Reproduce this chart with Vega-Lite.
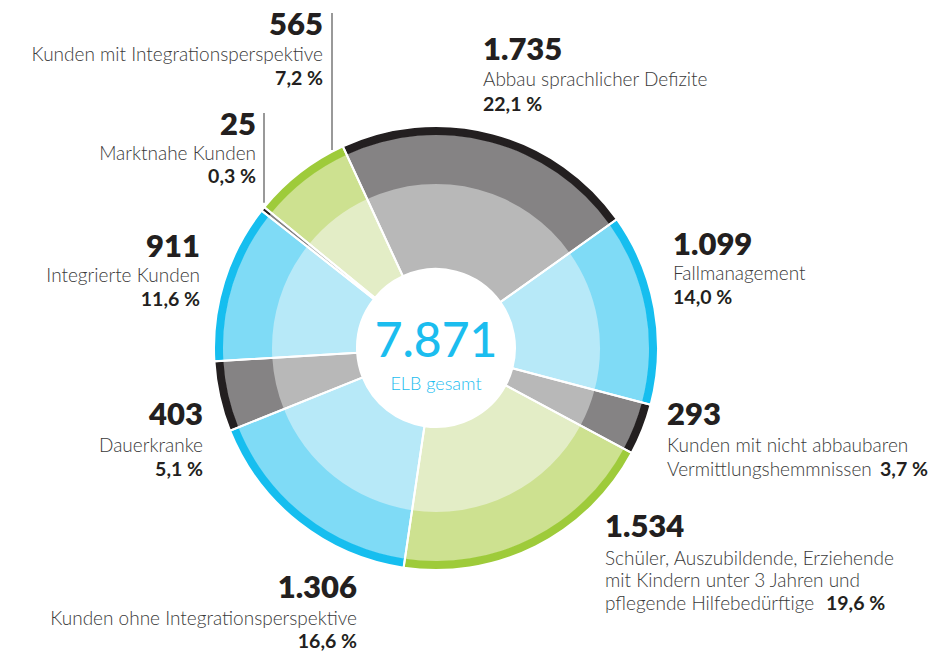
{
  "$schema": "https://vega.github.io/schema/vega-lite/v6.json",
  "width": 951,
  "height": 655,
  "autosize": {"type": "fit", "contains": "padding"},
  "padding": 0,
  "background": "white",
  "config": {"view": {"stroke": null}, "text": {"font": "Lato"}},
  "datasets": {
    "segmente": [
      {"nr": 1, "kategorie": "Abbau sprachlicher Defizite", "anzahl": 1735, "anteil": 22.1},
      {"nr": 2, "kategorie": "Fallmanagement", "anzahl": 1099, "anteil": 14.0},
      {"nr": 3, "kategorie": "Kunden mit nicht abbaubaren Vermittlungshemmnissen", "anzahl": 293, "anteil": 3.7},
      {"nr": 4, "kategorie": "Schüler, Auszubildende, Erziehende mit Kindern unter 3 Jahren und pflegende Hilfebedürftige", "anzahl": 1534, "anteil": 19.6},
      {"nr": 5, "kategorie": "Kunden ohne Integrationsperspektive", "anzahl": 1306, "anteil": 16.6},
      {"nr": 6, "kategorie": "Dauerkranke", "anzahl": 403, "anteil": 5.1},
      {"nr": 7, "kategorie": "Integrierte Kunden", "anzahl": 911, "anteil": 11.6},
      {"nr": 8, "kategorie": "Marktnahe Kunden", "anzahl": 25, "anteil": 0.3},
      {"nr": 9, "kategorie": "Kunden mit Integrationsperspektive", "anzahl": 565, "anteil": 7.2}
    ],
    "beschriftung": [
      {"art": "zahl", "text": "565", "x": -0.5136, "y": 1.4227},
      {"art": "text", "text": "Kunden mit Integrationsperspektive", "x": -0.5136, "y": 1.3045},
      {"art": "anteil", "text": "7,2 %", "x": -0.5136, "y": 1.1955},
      {"art": "zahl", "text": "25", "x": -0.8182, "y": 0.9682},
      {"art": "text", "text": "Marktnahe Kunden", "x": -0.8182, "y": 0.8545},
      {"art": "anteil", "text": "0,3 %", "x": -0.8182, "y": 0.75},
      {"art": "zahl", "text": "911", "x": -1.0727, "y": 0.4136},
      {"art": "text", "text": "Integrierte Kunden", "x": -1.0727, "y": 0.3},
      {"art": "anteil", "text": "11,6 %", "x": -1.0727, "y": 0.1909},
      {"art": "zahl", "text": "403", "x": -1.0591, "y": -0.35},
      {"art": "text", "text": "Dauerkranke", "x": -1.0591, "y": -0.4727},
      {"art": "anteil", "text": "5,1 %", "x": -1.0591, "y": -0.5818},
      {"art": "zahl", "text": "1.306", "x": -0.3591, "y": -1.1364},
      {"art": "text", "text": "Kunden ohne Integrationsperspektive", "x": -0.3591, "y": -1.2591},
      {"art": "anteil", "text": "16,6 %", "x": -0.3591, "y": -1.3636},
      {"art": "zahl", "text": "1.735", "x": 0.2136, "y": 1.3091},
      {"art": "text", "text": "Abbau sprachlicher Defizite", "x": 0.2136, "y": 1.1909},
      {"art": "anteil", "text": "22,1 %", "x": 0.2136, "y": 1.0773},
      {"art": "zahl", "text": "1.099", "x": 1.0773, "y": 0.4227},
      {"art": "text", "text": "Fallmanagement", "x": 1.0773, "y": 0.3091},
      {"art": "anteil", "text": "14,0 %", "x": 1.0773, "y": 0.2},
      {"art": "zahl", "text": "293", "x": 1.05, "y": -0.35},
      {"art": "text", "text": "Kunden mit nicht abbaubaren", "x": 1.05, "y": -0.4727},
      {"art": "text", "text": "Vermittlungshemmnissen", "x": 1.05, "y": -0.5818},
      {"art": "anteil", "text": "3,7 %", "x": 2.0182, "y": -0.5818},
      {"art": "zahl", "text": "1.534", "x": 0.7682, "y": -0.8591},
      {"art": "text", "text": "Schüler, Auszubildende, Erziehende", "x": 0.7682, "y": -0.9864},
      {"art": "text", "text": "mit Kindern unter 3 Jahren und", "x": 0.7682, "y": -1.0864},
      {"art": "text", "text": "pflegende Hilfebedürftige", "x": 0.7682, "y": -1.1909},
      {"art": "anteil", "text": "19,6 %", "x": 1.7727, "y": -1.1909}
    ],
    "mitte": [
      {"art": "summe", "text": "7.871", "x": 0, "y": -0.0409},
      {"art": "untertitel", "text": "ELB gesamt", "x": 0, "y": -0.1909}
    ],
    "linien": [
      {"x": -0.4727, "y": 1.5227, "y2": 0.9},
      {"x": -0.7818, "y": 1.0682, "y2": 0.66}
    ]
  },
  "layer": [
    {
      "data": {"name": "segmente"},
      "mark": {"type": "arc", "innerRadius": 79, "outerRadius": 165},
      "encoding": {
        "theta": {"field": "anzahl", "type": "quantitative", "stack": true, "scale": {"range": [-0.4328, 5.8504]}},
        "order": {"field": "nr", "type": "quantitative"},
        "x": {"datum": 0, "type": "quantitative", "scale": {"domain": [-1.9818, 2.3409], "nice": false, "zero": false}, "axis": null},
        "y": {"datum": 0, "type": "quantitative", "scale": {"domain": [-1.3955, 1.5818], "nice": false, "zero": false}, "axis": null},
        "color": {
          "field": "kategorie", "type": "nominal", "legend": null,
          "scale": {
            "domain": ["Abbau sprachlicher Defizite", "Fallmanagement", "Kunden mit nicht abbaubaren Vermittlungshemmnissen", "Schüler, Auszubildende, Erziehende mit Kindern unter 3 Jahren und pflegende Hilfebedürftige", "Kunden ohne Integrationsperspektive", "Dauerkranke", "Integrierte Kunden", "Marktnahe Kunden", "Kunden mit Integrationsperspektive"],
            "range": ["#b8b8b8", "#b7e9f8", "#b8b8b8", "#e3edc6", "#b7e9f8", "#b8b8b8", "#b7e9f8", "#b8b8b8", "#e3edc6"]
          }
        }
      }
    },
    {
      "data": {"name": "segmente"},
      "mark": {"type": "arc", "innerRadius": 164, "outerRadius": 213.5},
      "encoding": {
        "theta": {"field": "anzahl", "type": "quantitative", "stack": true, "scale": {"range": [-0.4328, 5.8504]}},
        "order": {"field": "nr", "type": "quantitative"},
        "x": {"datum": 0, "type": "quantitative"},
        "y": {"datum": 0, "type": "quantitative"},
        "color": {
          "field": "kategorie", "type": "nominal", "legend": null,
          "scale": {
            "domain": ["Abbau sprachlicher Defizite", "Fallmanagement", "Kunden mit nicht abbaubaren Vermittlungshemmnissen", "Schüler, Auszubildende, Erziehende mit Kindern unter 3 Jahren und pflegende Hilfebedürftige", "Kunden ohne Integrationsperspektive", "Dauerkranke", "Integrierte Kunden", "Marktnahe Kunden", "Kunden mit Integrationsperspektive"],
            "range": ["#858384", "#7fdbf6", "#858384", "#cde190", "#7fdbf6", "#858384", "#7fdbf6", "#858384", "#cde190"]
          }
        }
      }
    },
    {
      "data": {"name": "segmente"},
      "mark": {"type": "arc", "innerRadius": 213, "outerRadius": 222},
      "encoding": {
        "theta": {"field": "anzahl", "type": "quantitative", "stack": true, "scale": {"range": [-0.4328, 5.8504]}},
        "order": {"field": "nr", "type": "quantitative"},
        "x": {"datum": 0, "type": "quantitative"},
        "y": {"datum": 0, "type": "quantitative"},
        "color": {
          "field": "kategorie", "type": "nominal", "legend": null,
          "scale": {
            "domain": ["Abbau sprachlicher Defizite", "Fallmanagement", "Kunden mit nicht abbaubaren Vermittlungshemmnissen", "Schüler, Auszubildende, Erziehende mit Kindern unter 3 Jahren und pflegende Hilfebedürftige", "Kunden ohne Integrationsperspektive", "Dauerkranke", "Integrierte Kunden", "Marktnahe Kunden", "Kunden mit Integrationsperspektive"],
            "range": ["#231f20", "#16beef", "#231f20", "#9ecb3a", "#16beef", "#231f20", "#16beef", "#231f20", "#9ecb3a"]
          }
        }
      }
    },
    {
      "data": {"name": "segmente"},
      "mark": {"type": "arc", "innerRadius": 79, "outerRadius": 222, "fill": "white", "fillOpacity": 0, "stroke": "white", "strokeWidth": 2},
      "encoding": {
        "theta": {"field": "anzahl", "type": "quantitative", "stack": true, "scale": {"range": [-0.4328, 5.8504]}},
        "order": {"field": "nr", "type": "quantitative"},
        "x": {"datum": 0, "type": "quantitative"},
        "y": {"datum": 0, "type": "quantitative"}
      }
    },
    {
      "data": {"name": "linien"},
      "mark": {"type": "rule", "color": "#555555", "strokeWidth": 1.2},
      "encoding": {
        "x": {"field": "x", "type": "quantitative"},
        "y": {"field": "y", "type": "quantitative"},
        "y2": {"field": "y2"}
      }
    },
    {
      "data": {"name": "beschriftung"},
      "transform": [{"filter": "datum.art == 'zahl'"}],
      "mark": {"type": "text", "font": "Lato", "fontSize": 31, "fontWeight": 800, "color": "#231f20", "baseline": "alphabetic", "align": {"expr": "datum.x < 0 ? 'right' : 'left'"}},
      "encoding": {
        "x": {"field": "x", "type": "quantitative"},
        "y": {"field": "y", "type": "quantitative"},
        "text": {"field": "text", "type": "nominal"}
      }
    },
    {
      "data": {"name": "beschriftung"},
      "transform": [{"filter": "datum.art == 'text'"}],
      "mark": {"type": "text", "font": "Lato", "fontSize": 19, "fontWeight": 300, "color": "#3a3a3a", "baseline": "alphabetic", "align": {"expr": "datum.x < 0 ? 'right' : 'left'"}},
      "encoding": {
        "x": {"field": "x", "type": "quantitative"},
        "y": {"field": "y", "type": "quantitative"},
        "text": {"field": "text", "type": "nominal"}
      }
    },
    {
      "data": {"name": "beschriftung"},
      "transform": [{"filter": "datum.art == 'anteil'"}],
      "mark": {"type": "text", "font": "Lato", "fontSize": 19.5, "fontWeight": 700, "color": "#231f20", "baseline": "alphabetic", "align": {"expr": "datum.x < 0 ? 'right' : 'left'"}},
      "encoding": {
        "x": {"field": "x", "type": "quantitative"},
        "y": {"field": "y", "type": "quantitative"},
        "text": {"field": "text", "type": "nominal"}
      }
    },
    {
      "data": {"name": "mitte"},
      "mark": {"type": "text", "font": "Lato", "color": "#1bbdef", "baseline": "alphabetic", "align": "center", "fontSize": {"expr": "datum.art == 'summe' ? 48 : 18"}, "fontWeight": {"expr": "datum.art == 'summe' ? 500 : 300"}},
      "encoding": {
        "x": {"field": "x", "type": "quantitative"},
        "y": {"field": "y", "type": "quantitative"},
        "text": {"field": "text", "type": "nominal"}
      }
    }
  ],
  "resolve": {"scale": {"color": "independent"}}
}
